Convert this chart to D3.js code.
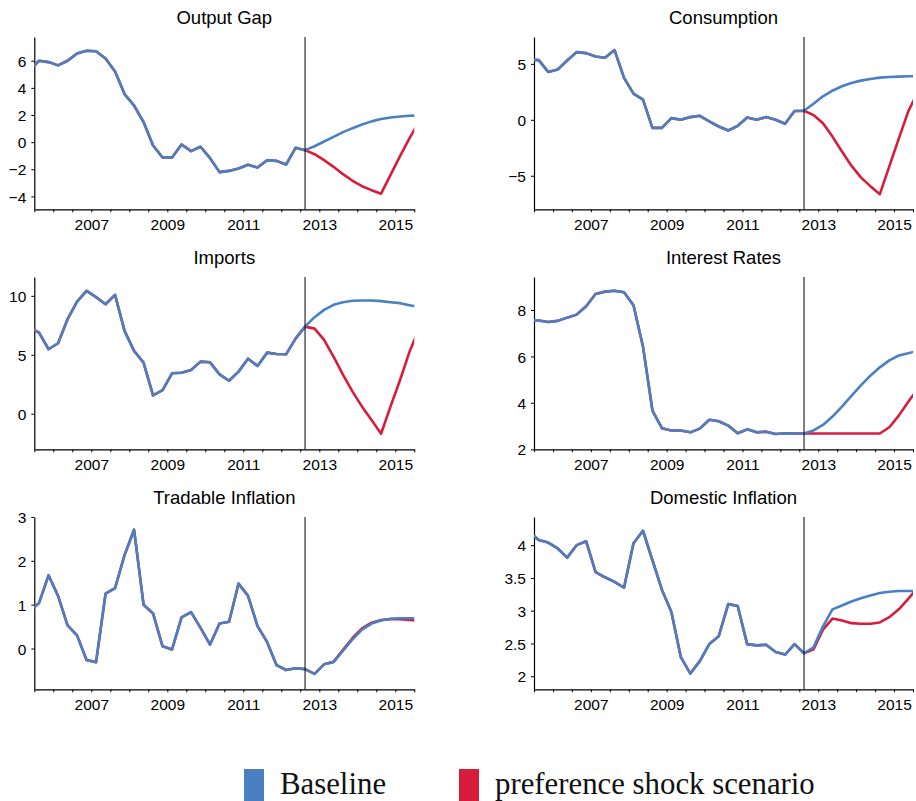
<!DOCTYPE html>
<html><head><meta charset="utf-8">
<script src="https://cdn.jsdelivr.net/npm/d3@7"></script>
<style>body{margin:0;background:#fff}svg{display:block}</style>
</head><body><svg id="c" width="916" height="801"></svg>
<script>
const quarters = ["2005Q2","2005Q3","2005Q4","2006Q1","2006Q2","2006Q3","2006Q4","2007Q1","2007Q2","2007Q3","2007Q4",
"2008Q1","2008Q2","2008Q3","2008Q4","2009Q1","2009Q2","2009Q3","2009Q4","2010Q1","2010Q2","2010Q3","2010Q4",
"2011Q1","2011Q2","2011Q3","2011Q4","2012Q1","2012Q2","2012Q3","2012Q4","2013Q1","2013Q2","2013Q3","2013Q4",
"2014Q1","2014Q2","2014Q3","2014Q4","2015Q1","2015Q2","2015Q3"];
const historyEnd = "2012Q3";
const xTickYears = [2007, 2009, 2011, 2013, 2015];
const legendLabels = ["Baseline", "preference shock scenario"];

// history 2005Q2..2012Q3 ; forecasts 2012Q4..2015Q3
const outputGapHist = [5.3,6.0,5.9,5.66,6.0,6.54,6.74,6.7,6.17,5.2,3.54,2.7,1.48,-0.25,-1.13,-1.13,-0.17,-0.66,-0.34,-1.18,-2.21,-2.12,-1.94,-1.67,-1.87,-1.33,-1.38,-1.65,-0.42,-0.59];
const outputGapBase = [-0.3,0.05,0.39,0.74,1.03,1.3,1.53,1.7,1.82,1.89,1.94,1.97];
const outputGapShock = [-0.89,-1.33,-1.82,-2.36,-2.85,-3.25,-3.54,-3.8,-2.41,-1.03,0.3,1.5];

const consumptionHist = [5.4,5.33,4.28,4.49,5.3,6.05,5.96,5.66,5.54,6.23,3.74,2.34,1.8,-0.72,-0.72,0.15,0.0,0.24,0.36,-0.15,-0.6,-0.96,-0.54,0.21,0.0,0.24,0.0,-0.36,0.78,0.81];
const consumptionBase = [1.44,2.1,2.6,3.0,3.29,3.5,3.65,3.77,3.83,3.86,3.89,3.9];
const consumptionShock = [0.42,-0.3,-1.5,-2.84,-4.1,-5.15,-5.93,-6.65,-4.16,-1.68,0.75,2.5];

const importsHist = [7.3,6.88,5.47,5.98,8.02,9.52,10.42,9.89,9.29,10.08,7.03,5.33,4.33,1.56,2.0,3.43,3.48,3.71,4.42,4.36,3.34,2.8,3.57,4.67,4.05,5.18,5.07,5.04,6.37,7.39];
const importsBase = [8.19,8.81,9.24,9.46,9.58,9.6,9.6,9.55,9.46,9.38,9.21,9.05];
const importsShock = [7.22,6.26,4.84,3.29,1.87,0.6,-0.54,-1.7,0.62,2.86,5.27,7.2];

const interestHist = [7.55,7.55,7.48,7.53,7.67,7.8,8.16,8.69,8.79,8.83,8.76,8.2,6.43,3.67,2.91,2.81,2.81,2.73,2.89,3.27,3.21,3.02,2.69,2.86,2.73,2.76,2.66,2.69,2.68,2.68];
const interestBase = [2.81,3.05,3.41,3.84,4.3,4.75,5.17,5.53,5.83,6.04,6.14,6.24];
const interestShock = [2.68,2.68,2.68,2.68,2.68,2.68,2.68,2.68,2.95,3.45,4.05,4.6];

const tradableHist = [0.85,1.04,1.67,1.2,0.53,0.3,-0.26,-0.31,1.25,1.38,2.13,2.71,1.0,0.8,0.05,-0.02,0.71,0.83,0.47,0.09,0.57,0.61,1.48,1.2,0.51,0.15,-0.38,-0.49,-0.45,-0.47];
const tradableBase = [-0.58,-0.36,-0.31,-0.05,0.21,0.43,0.57,0.64,0.68,0.69,0.69,0.69];
const tradableShock = [-0.58,-0.36,-0.3,-0.03,0.24,0.46,0.59,0.65,0.67,0.67,0.65,0.63];

const domesticHist = [4.2,4.08,4.04,3.95,3.81,4.0,4.06,3.59,3.51,3.44,3.35,4.03,4.22,3.77,3.32,2.98,2.29,2.04,2.23,2.49,2.61,3.1,3.07,2.49,2.47,2.48,2.37,2.33,2.49,2.35];
const domesticBase = [2.44,2.76,3.02,3.08,3.14,3.19,3.23,3.27,3.29,3.3,3.3,3.3];
const domesticShock = [2.41,2.71,2.88,2.85,2.81,2.8,2.8,2.82,2.9,3.02,3.18,3.35];

const panels = [
  {title:"Output Gap", hist:outputGapHist, base:outputGapBase, shock:outputGapShock, domain:[-4.95,7.75], ticks:[-4,-2,0,2,4,6]},
  {title:"Consumption", hist:consumptionHist, base:consumptionBase, shock:consumptionShock, domain:[-8.0,7.4], ticks:[-5,0,5]},
  {title:"Imports", hist:importsHist, base:importsBase, shock:importsShock, domain:[-3.02,11.6], ticks:[0,5,10]},
  {title:"Interest Rates", hist:interestHist, base:interestBase, shock:interestShock, domain:[2,9.42], ticks:[2,4,6,8]},
  {title:"Tradable Inflation", hist:tradableHist, base:tradableBase, shock:tradableShock, domain:[-0.93,3.0], ticks:[0,1,2,3]},
  {title:"Domestic Inflation", hist:domesticHist, base:domesticBase, shock:domesticShock, domain:[1.8,4.43], ticks:[2,2.5,3,3.5,4]}
];

const BLUE = "#4a7fc2", RED = "#d81c3b";
const FONT = "'Liberation Sans', Arial, Helvetica, sans-serif";
const qToT = q => +q.slice(0,4) + (+q.slice(5)-1)/4 + 0.125;
const colX = [[34.3, 414.3], [534, 913]];
const rowY = r => [37 + 240*r, 209.3 + 240*r];

const svg = d3.select("#c");
const fmt = d => (d < 0 ? "\u2212" : "") + Math.abs(d);

panels.forEach((p, i) => {
  const c = i % 2, r = Math.floor(i / 2);
  const [x0, x1] = colX[c], [y0, y1] = rowY(r);
  const x = d3.scaleLinear().domain([2005.5, 2015.5]).range([x0, x1]);
  const y = d3.scaleLinear().domain(p.domain).range([y1, y0]);
  const g = svg.append("g");
  const cid = "clip" + i;
  svg.append("clipPath").attr("id", cid).append("rect")
    .attr("x", x0).attr("y", y0 - 2).attr("width", x1 - x0).attr("height", y1 - y0 + 2);

  const baseSeries = p.hist.concat(p.base).map((v, k) => ({t: qToT(quarters[k]), v}));
  const shockSeries = p.hist.concat(p.shock).map((v, k) => ({t: qToT(quarters[k]), v}));
  const line = d3.line().x(d => x(d.t)).y(d => y(d.v));

  // x axis
  const xTicks = d3.range(2005.5, 2015.51, 0.5);
  const xa = g.append("g").attr("transform", `translate(0,${y1})`)
    .call(d3.axisBottom(x).tickValues(xTicks).tickSize(3).tickSizeOuter(0)
      .tickFormat(d => xTickYears.includes(d) ? String(d) : ""));
  xa.selectAll("text").attr("y", 21).attr("dy", null)
    .style("font-family", FONT).style("font-size", "15.5px").attr("fill", "#000");
  // y axis
  const ya = g.append("g").attr("transform", `translate(${x0},0)`)
    .call(d3.axisLeft(y).tickValues(p.ticks).tickSize(3).tickSizeOuter(0).tickFormat(fmt));
  ya.selectAll("text").attr("x", -8).attr("dy", "0.36em")
    .style("font-family", FONT).style("font-size", "15.5px").attr("fill", "#000");
  [xa, ya].forEach(a => { a.select(".domain").attr("stroke", "#000").attr("stroke-width", 1.2); a.selectAll("line").attr("stroke", "#000"); });

  const lines = g.append("g").attr("clip-path", `url(#${cid})`);
  lines.append("path").datum(shockSeries).attr("d", line).attr("fill", "none")
    .attr("stroke", RED).attr("stroke-width", 2.6).attr("stroke-linejoin", "round");
  lines.append("path").datum(baseSeries).attr("d", line).attr("fill", "none")
    .attr("stroke", BLUE).attr("stroke-width", 2.6).attr("stroke-linejoin", "round");

  // vertical line at end of history
  const vx = x(qToT(historyEnd));
  g.append("line").attr("x1", vx).attr("x2", vx).attr("y1", y0).attr("y2", y1)
    .attr("stroke", "#000").attr("stroke-width", 1);

  g.append("text").attr("x", (x0 + x1) / 2).attr("y", 24 + 240*r).attr("text-anchor", "middle")
    .style("font-family", FONT).style("font-size", "18.5px").text(p.title);
});

// legend
const leg = svg.append("g");
const legendItems = [{label: legendLabels[0], color: BLUE, x: 244}, {label: legendLabels[1], color: RED, x: 459}];
legendItems.forEach(it => {
  leg.append("rect").attr("x", it.x).attr("y", 769).attr("width", 20).attr("height", 32).attr("fill", it.color);
  leg.append("text").attr("x", it.x + 36).attr("y", 794)
    .style("font-family", "'Liberation Serif', 'Times New Roman', serif").style("font-size", "30.8px")
    .attr("fill", "#111").text(it.label);
});
</script></body></html>
